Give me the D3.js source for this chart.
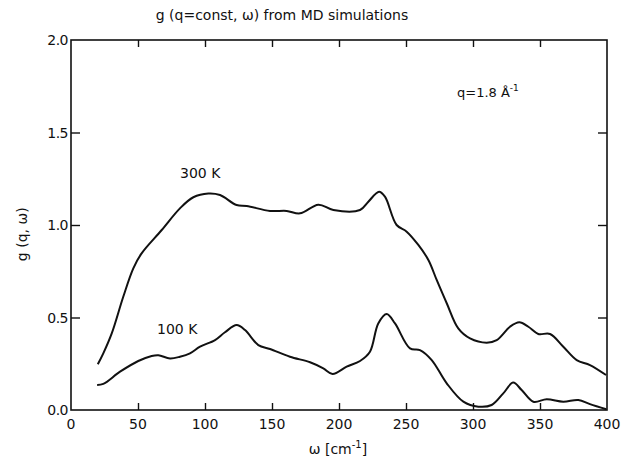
<!DOCTYPE html>
<html>
<head>
<meta charset="utf-8">
<script src="https://cdn.jsdelivr.net/npm/d3@7"></script>
<style>
  body { margin: 0; background: #fff; }
  text { font-family: "DejaVu Sans", sans-serif; fill: #111; }
</style>
</head>
<body>
<div id="chart"></div>
<script>
// omega [cm^-1] and g(q, omega)
const omega300 = [20, 24.1, 30.4, 39, 46.5, 52.7, 67.7, 81.3, 91.3, 102.5, 111.2, 123.6, 131.1, 148.5, 161, 170.9, 184.6, 195.8, 215.7, 221.9, 229.9, 234.3, 243, 250.5, 259.2, 266.7, 272.9, 280.4, 289, 297.8, 310.2, 317.7, 327.6, 334.6, 341.3, 348.7, 357.5, 367.4, 377.4, 387.3, 399.3];
const g300 = [0.247, 0.306, 0.414, 0.612, 0.766, 0.847, 0.973, 1.09, 1.15, 1.17, 1.162, 1.108, 1.103, 1.076, 1.076, 1.063, 1.11, 1.081, 1.081, 1.126, 1.18, 1.153, 1.0, 0.964, 0.892, 0.811, 0.703, 0.577, 0.441, 0.387, 0.364, 0.378, 0.45, 0.474, 0.45, 0.411, 0.411, 0.342, 0.27, 0.243, 0.189];

const omega100 = [19.5, 24.1, 36.6, 50.2, 60.2, 65.2, 73.9, 81.3, 88.8, 96.3, 107.5, 114.9, 123.6, 129.9, 139.8, 148.5, 163.4, 178.4, 188.3, 195.2, 205.7, 215.7, 223.1, 229.3, 235.6, 241.8, 253, 260.4, 269.2, 280.4, 292.8, 304, 313.9, 322.6, 330, 336.3, 345, 355, 367.4, 378.6, 387.3, 399.5];
const g100 = [0.135, 0.141, 0.207, 0.265, 0.292, 0.296, 0.279, 0.288, 0.306, 0.342, 0.378, 0.42, 0.459, 0.432, 0.351, 0.33, 0.288, 0.258, 0.225, 0.195, 0.234, 0.265, 0.315, 0.468, 0.519, 0.468, 0.333, 0.324, 0.27, 0.144, 0.045, 0.018, 0.027, 0.09, 0.148, 0.108, 0.045, 0.058, 0.045, 0.054, 0.032, 0.004];

const xTicks = [0, 50, 100, 150, 200, 250, 300, 350, 400];
const yTicks = [0.0, 0.5, 1.0, 1.5, 2.0];

const width = 622;
const height = 463;
const margin = { top: 40, right: 15, bottom: 53, left: 71 };

const svg = d3.select("#chart")
    .append("svg")
    .attr("width", width)
    .attr("height", height);

const x = d3.scaleLinear()
    .domain([0, 400])
    .range([margin.left, width - margin.right]);

const y = d3.scaleLinear()
    .domain([0, 2])
    .range([height - margin.bottom, margin.top]);

// frame
svg.append("rect")
    .attr("x", x(0))
    .attr("y", y(2))
    .attr("width", x(400) - x(0))
    .attr("height", y(0) - y(2))
    .attr("fill", "none")
    .attr("stroke", "#111")
    .attr("stroke-width", 1.6);

// inward ticks on all four sides
const innerX = xTicks.filter(d => d > 0 && d < 400);
const innerY = yTicks.filter(d => d > 0 && d < 2);

svg.append("g")
    .attr("transform", `translate(0, ${y(0)})`)
    .call(d3.axisBottom(x).tickValues(innerX).tickSize(-7).tickFormat(""))
    .call(g => g.select(".domain").remove());

svg.append("g")
    .attr("transform", `translate(0, ${y(2)})`)
    .call(d3.axisTop(x).tickValues(innerX).tickSize(-7).tickFormat(""))
    .call(g => g.select(".domain").remove());

svg.append("g")
    .attr("transform", `translate(${x(0)}, 0)`)
    .call(d3.axisLeft(y).tickValues(innerY).tickSize(-9).tickFormat(""))
    .call(g => g.select(".domain").remove());

svg.append("g")
    .attr("transform", `translate(${x(400)}, 0)`)
    .call(d3.axisRight(y).tickValues(innerY).tickSize(-9).tickFormat(""))
    .call(g => g.select(".domain").remove());

svg.selectAll(".tick line").attr("stroke", "#111").attr("stroke-width", 1.4);

// tick labels
svg.selectAll(".xlab")
    .data(xTicks)
    .enter()
    .append("text")
    .attr("x", d => x(d))
    .attr("y", y(0) + 19)
    .attr("text-anchor", "middle")
    .style("font-size", "14px")
    .text(d => d);

svg.selectAll(".ylab")
    .data(yTicks)
    .enter()
    .append("text")
    .attr("x", x(0) - 3)
    .attr("y", d => y(d) + 5)
    .attr("text-anchor", "end")
    .style("font-size", "14px")
    .style("letter-spacing", "-0.5px")
    .text(d => d.toFixed(1));

// curves
const line = d3.line()
    .x(d => x(d[0]))
    .y(d => y(d[1]))
    .curve(d3.curveCatmullRom.alpha(0.5));

[[omega300, g300], [omega100, g100]].forEach(([w, g]) => {
    svg.append("path")
        .datum(d3.zip(w, g))
        .attr("fill", "none")
        .attr("stroke", "#111")
        .attr("stroke-width", 2)
        .attr("d", line);
});

// titles and annotations
svg.append("text")
    .attr("x", 282)
    .attr("y", 20)
    .attr("text-anchor", "middle")
    .style("font-size", "14px")
    .text("g (q=const, ω) from MD simulations");

svg.append("text")
    .attr("x", 338)
    .attr("y", 454)
    .attr("text-anchor", "middle")
    .style("font-size", "14px")
    .html('ω [cm<tspan dy="-6" font-size="10px">-1</tspan><tspan dy="6">]</tspan>');

svg.append("text")
    .attr("transform", `translate(27, ${y(0.95)}) rotate(-90)`)
    .attr("text-anchor", "middle")
    .style("font-size", "14px")
    .text("g (q, ω)");

svg.append("text")
    .attr("x", 180)
    .attr("y", 178)
    .style("font-size", "14px")
    .text("300  K");

svg.append("text")
    .attr("x", 157)
    .attr("y", 334)
    .style("font-size", "14px")
    .text("100  K");

svg.append("text")
    .attr("x", 457)
    .attr("y", 97)
    .style("font-size", "13px")
    .html('q=1.8  Å<tspan dy="-6" font-size="9px">-1</tspan>');
</script>
</body>
</html>
